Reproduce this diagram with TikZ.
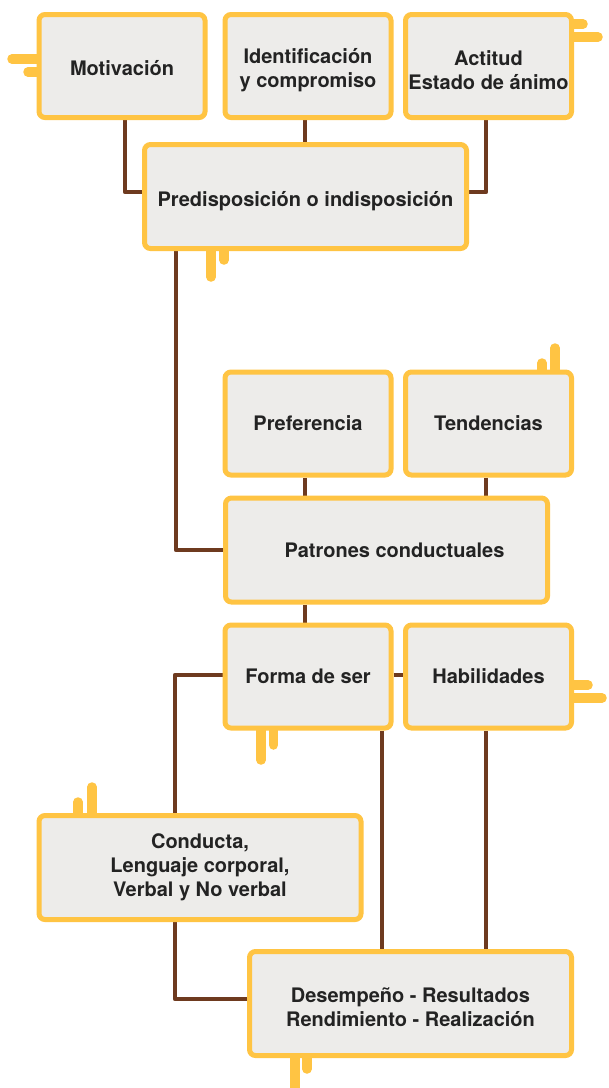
\documentclass[tikz,border=0pt]{standalone}
\usepackage{fontspec}
\setmainfont{TeX Gyre Heros}
\usetikzlibrary{backgrounds}
\definecolor{boxyellow}{HTML}{FFC443}
\definecolor{boxfill}{HTML}{EDECEA}
\definecolor{linkbrown}{HTML}{6E3A1F}
\definecolor{txt}{HTML}{232323}
\newcommand\dropby[1]{\rule{0pt}{#1}}
\begin{document}
\begin{tikzpicture}[x=1pt,y=-1pt,
  box/.style={draw=boxyellow, line width=5pt, fill=boxfill, rounded corners=6pt,
    minimum width=166pt, minimum height=103pt, inner sep=0pt, align=center,
    font=\fontsize{20}{24}\selectfont\bfseries, text=txt},
  wide/.style={box, minimum width=322pt, minimum height=104pt},
  link/.style={draw=linkbrown, line width=4.5pt, line join=round},
  stub/.style={draw=boxyellow, line width=9.5pt, line cap=round}]
\useasboundingbox (0,0) rectangle (609,1088);

\node[box]  (mot)  at (122,66)      {\dropby{19pt}Motivación};
\node[box]  (ide)  at (308,66)      {\dropby{24pt}Identificación\\y compromiso};
\node[box]  (act)  at (488.5,66)    {\dropby{22.5pt}Actitud\\Estado de ánimo};
\node[wide] (pre)  at (305.5,196.5) {\dropby{25pt}Predisposición o indisposición};
\node[box]  (pref) at (308,423.5)   {Preferencia};
\node[box]  (ten)  at (488.5,423.5) {Tendencias};
\node[wide] (pat)  at (386.5,550)   {\hspace*{16pt}Patrones conductuales};
\node[box]  (for)  at (308,676.5)   {Forma de ser};
\node[box]  (hab)  at (488.5,676.5) {Habilidades};
\node[wide] (con)  at (200,867.5)   {Conducta,\\Lenguaje corporal,\\Verbal y No verbal};
\node[wide] (des)  at (410.5,1003.5){\dropby{22.5pt}Desempeño - Resultados\\Rendimiento - Realización};

\begin{scope}[on background layer]
  \fill[white] (0,0) rectangle (609,1088);
  % decorative stubs
  \draw[stub] (50,59) -- (12,59);
  \draw[stub] (50,72) -- (28,72);
  \draw[stub] (560,24) -- (583,24);
  \draw[stub] (560,37) -- (598,37);
  \draw[stub] (211,230) -- (211,277);
  \draw[stub] (224,230) -- (224,260);
  \draw[stub] (542,390) -- (542,363);
  \draw[stub] (555,390) -- (555,348);
  \draw[stub] (560,685) -- (588,685);
  \draw[stub] (560,698) -- (602,698);
  \draw[stub] (261,710) -- (261,760);
  \draw[stub] (273.5,710) -- (273.5,745);
  \draw[stub] (78,830) -- (78,802);
  \draw[stub] (92,830) -- (92,787);
  \draw[stub] (295,1040) -- (295,1095);
  \draw[stub] (307,1040) -- (307,1069);
  % connectors
  \draw[link] ([xshift=3pt]mot.south) |- ([yshift=4.5pt]pre.west);
  \draw[link] ([xshift=-3pt]ide.south) -- ([xshift=-3pt]ide.south |- pre.north);
  \draw[link] ([xshift=-2.5pt]act.south) |- ([yshift=4.5pt]pre.east);
  \draw[link] ([xshift=-129.5pt]pre.south) |- (pat.west);
  \draw[link] ([xshift=-3pt]pref.south) -- ([xshift=-3pt]pref.south |- pat.north);
  \draw[link] ([xshift=-2.5pt]ten.south) -- ([xshift=-2.5pt]ten.south |- pat.north);
  \draw[link] ([xshift=-3pt]for.north |- pat.south) -- ([xshift=-3pt]for.north);
  \draw[link] ([yshift=1.5pt]for.west) -| ([xshift=-25pt]con.north);
  \draw[link] ([yshift=1.5pt]for.east) -- ([yshift=1.5pt]hab.west);
  \draw[link] ([xshift=74pt]for.south) -- ([xshift=74pt]for.south |- des.north);
  \draw[link] ([xshift=-2.5pt]hab.south) -- ([xshift=-2.5pt]hab.south |- des.north);
  \draw[link] ([xshift=-25pt]con.south) |- ([yshift=4.5pt]des.west);
\end{scope}
\end{tikzpicture}
\end{document}
